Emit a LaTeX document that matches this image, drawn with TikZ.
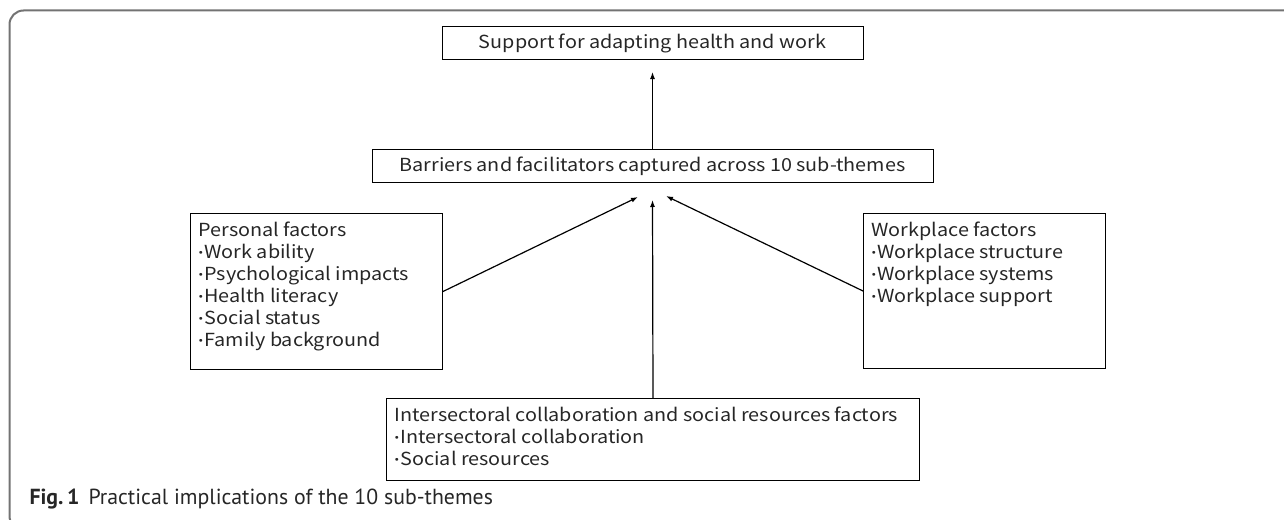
\documentclass[tikz,border=0pt]{standalone}
\usepackage{fontspec}
\usetikzlibrary{arrows.meta}

\setmainfont{PT Sans}
\newfontfamily\boxfont[FakeStretch=1.1]{Noto Sans CJK JP}

\tikzset{
  themebox/.style = {draw, line width=1pt, inner sep=0pt, text=black!85,
    font=\boxfont\fontsize{18}{22}\selectfont},
  factorbox/.style = {themebox, anchor=north west, inner xsep=8pt, inner ysep=8pt},
  uparrow/.style = {line width=1.2pt, -{Latex[length=7pt, width=5pt]}},
}

% fixed-size list box: width, height, lines
\newcommand{\factorlist}[3]{\parbox[t][#2][t]{#1}{\raggedright\strut #3}}
\newcommand{\itemdot}{{\normalfont\bfseries ·}\hspace{1.5pt}}

\begin{document}
\begin{tikzpicture}[x = 1pt, y = -1pt]
    \clip (0,0) rectangle (1284,519);
    \draw[black!55, line width=2pt, rounded corners=14pt]
      (60,530) -- (9.5,530) -- (9.5,10.5) -- (1300,10.5);

    \node[themebox, minimum width=421pt, minimum height=33pt] (goal) at (652.5,43.5)
      {Support for adapting health and work};
    \node[themebox, minimum width=561pt, minimum height=33pt] (themes) at (652.5,166)
      {Barriers and facilitators captured across 10 sub-themes};

    \node[factorbox] (personal) at (190,213) {\factorlist{236pt}{140pt}{%
      Personal factors\\
      \itemdot Work ability\\
      \itemdot Psychological impacts\\
      \itemdot Health literacy\\
      \itemdot Social status\\
      \itemdot Family background}};
    \node[factorbox] (workplace) at (863,213) {\factorlist{226pt}{139pt}{%
      Workplace factors\\
      \itemdot Workplace structure\\
      \itemdot Workplace systems\\
      \itemdot Workplace support}};
    \node[factorbox] (intersect) at (386,398) {\factorlist{517pt}{66pt}{%
      Intersectoral collaboration and social resources factors\\
      \itemdot Intersectoral collaboration\\
      \itemdot Social resources}};

    % arrow tips stop short of the boxes
    \coordinate (goaltip) at (652.5,72);
    \coordinate (ptip) at (638,197);
    \coordinate (itip) at (652.5,200);
    \coordinate (wtip) at (666,196);

    \draw[uparrow] (themes.north) -- (goaltip);
    \draw[uparrow] (personal.east) -- (ptip);
    \draw[uparrow] (intersect.north) -- (itip);
    \draw[uparrow] (workplace.west) -- (wtip);

    % Caption
    \node[anchor = base west, font = \fontsize{21.8}{26}\selectfont, text = black!85] (caption) at (26,504)
      {\textbf{Fig.\,1}\hspace{9pt}Practical implications of the 10 sub-themes};
  \end{tikzpicture}
\end{document}
